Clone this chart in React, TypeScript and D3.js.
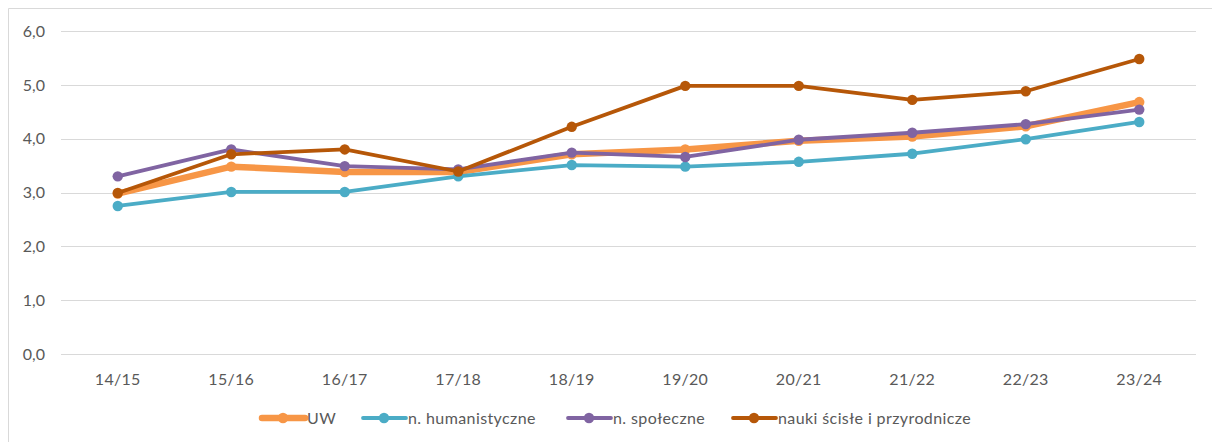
import React from "react";
import * as d3 from "d3";

const categories = ["14/15", "15/16", "16/17", "17/18", "18/19", "19/20", "20/21", "21/22", "22/23", "23/24"];
const seriesNames = ["UW", "n. humanistyczne", "n. społeczne", "nauki ścisłe i przyrodnicze"];
const uw = [2.98, 3.48, 3.38, 3.38, 3.71, 3.8, 3.96, 4.04, 4.23, 4.68];
const humanistyczne = [2.75, 3.01, 3.01, 3.3, 3.51, 3.48, 3.57, 3.72, 3.99, 4.31];
const spoleczne = [3.3, 3.8, 3.49, 3.43, 3.74, 3.66, 3.98, 4.11, 4.27, 4.54];
const scisle = [2.99, 3.71, 3.8, 3.39, 4.22, 4.98, 4.98, 4.72, 4.88, 5.48];
const yTicks = [0, 1, 2, 3, 4, 5, 6];

const colors = ["#F79646", "#4BACC6", "#8064A2", "#B65708"];
const widths = [6.5, 3.8, 3.8, 3.8];
const legendX = [262, 363, 568, 733];

const W = 1212;
const H = 442;
const FONT = "Lato, 'Noto Sans', sans-serif";

export default function App() {
  const allSeries = [uw, humanistyczne, spoleczne, scisle];
  const x = d3.scaleBand<string>().domain(categories).range([61, 1196]).padding(0);
  const y = d3.scaleLinear().domain([0, 6]).range([354, 31]);
  const cx = (c: string) => (x(c) as number) + x.bandwidth() / 2;
  const line = d3
    .line<number>()
    .x((_, i) => cx(categories[i]))
    .y((d) => y(d));
  const fmt = (v: number) => v.toFixed(1).replace(".", ",");

  return (
    <svg
      width={W}
      height={H}
      style={{ position: "absolute", left: 0, top: 0, background: "#fff" }}
      fontFamily={FONT}
    >
      <rect x={0} y={0} width={W} height={H} fill="#fff" />
      <line x1={8.5} x2={W} y1={8.5} y2={8.5} stroke="#d9d9d9" />
      <line x1={8.5} x2={8.5} y1={8.5} y2={H} stroke="#d9d9d9" />
      {yTicks.map((t) => (
        <g key={t}>
          <line x1={61} x2={1196} y1={Math.round(y(t)) + 0.5} y2={Math.round(y(t)) + 0.5} stroke="#d9d9d9" strokeWidth={1} />
          <text x={45} y={y(t)} dy="0.36em" textAnchor="end" fontSize={16} fill="#595959">
            {fmt(t)}
          </text>
        </g>
      ))}
      {categories.map((c) => (
        <text key={c} x={cx(c)} y={385} textAnchor="middle" fontSize={16} fill="#595959" letterSpacing={0.3}>
          {c}
        </text>
      ))}
      {allSeries.map((s, si) => (
        <g key={si}>
          <path d={line(s) as string} fill="none" stroke={colors[si]} strokeWidth={widths[si]} strokeLinejoin="round" strokeLinecap="round" />
          {s.map((v, i) => (
            <circle key={i} cx={cx(categories[i])} cy={y(v)} r={5.2} fill={colors[si]} />
          ))}
        </g>
      ))}
      {seriesNames.map((n, si) => (
        <g key={n} transform={`translate(${legendX[si]},418)`}>
          <line x1={0} x2={43} y1={0} y2={0} stroke={colors[si]} strokeWidth={widths[si]} strokeLinecap="round" />
          <circle cx={21} cy={0} r={5.2} fill={colors[si]} />
          <text x={45} y={6} fontSize={16} fill="#595959" letterSpacing={0.4}>
            {n}
          </text>
        </g>
      ))}
    </svg>
  );
}
